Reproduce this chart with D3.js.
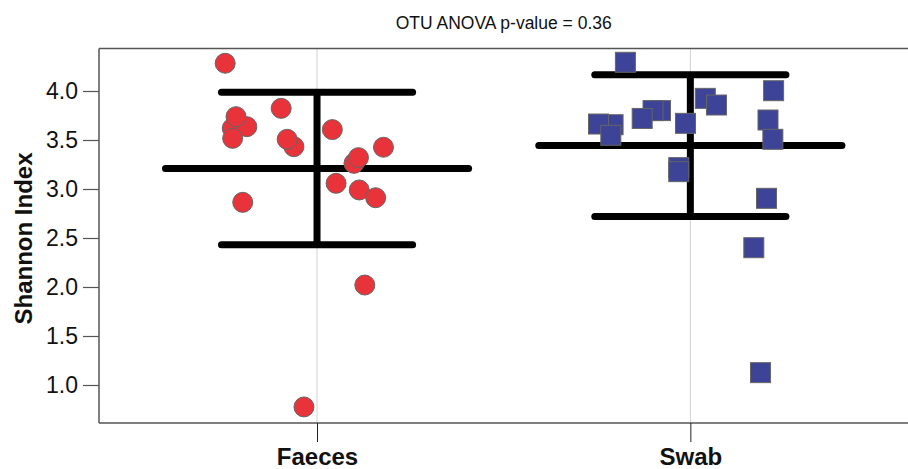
<!DOCTYPE html>
<html>
<head>
<meta charset="utf-8">
<script src="https://cdn.jsdelivr.net/npm/d3@7"></script>
<style>
  html, body { margin: 0; padding: 0; background: #fff; }
  svg { display: block; }
  text { font-family: "Liberation Sans", Arial, sans-serif; }
</style>
</head>
<body>
<svg id="chart" width="908" height="469"></svg>
<script>
// ---- data ----
const categories = ["Faeces", "Swab"];
const title = "OTU ANOVA p-value = 0.36";
const yLabel = "Shannon Index";
const yTicks = [1.0, 1.5, 2.0, 2.5, 3.0, 3.5, 4.0];

const faecesValues = [4.283, 3.620, 3.636, 3.517, 3.738, 3.823, 3.432, 3.507, 3.606, 3.426, 3.262, 3.320, 3.058, 2.990, 2.911, 2.864, 2.020, 0.776];
const faecesJitter = [-0.246, -0.227, -0.188, -0.226, -0.217, -0.096, -0.062, -0.080, 0.041, 0.178, 0.099, 0.111, 0.051, 0.113, 0.157, -0.199, 0.128, -0.035];

const swabValues = [4.293, 4.003, 3.925, 3.857, 3.800, 3.800, 3.720, 3.656, 3.663, 3.548, 3.670, 3.704, 3.507, 3.218, 3.177, 2.905, 2.401, 1.126];
const swabJitter = [-0.174, 0.223, 0.040, 0.070, -0.080, -0.100, -0.129, -0.207, -0.246, -0.213, -0.013, 0.208, 0.221, -0.031, -0.031, 0.204, 0.170, 0.188];

const means = [3.208, 3.443];
const sds = [0.778, 0.723];

// ---- layout ----
const svg = d3.select("#chart");
const pLeft = 99, pRight = 908, pTop = 48.5, pBottom = 423;

const x = d3.scaleLinear().domain([-0.584, 1.583]).range([pLeft, pRight]);
const y = d3.scaleLinear().domain([0.6122, 4.4337]).range([pBottom, pTop]);

// vertical grid lines at categories
svg.append("g").selectAll("line").data(categories).join("line")
  .attr("x1", (d, i) => x(i)).attr("x2", (d, i) => x(i))
  .attr("y1", pTop).attr("y2", pBottom)
  .attr("stroke", "#d0d0d0").attr("stroke-width", 1);

// frame
const frameColor = "#555";
svg.append("line").attr("x1", pLeft).attr("x2", pRight).attr("y1", pTop).attr("y2", pTop)
  .attr("stroke", frameColor).attr("stroke-width", 1.5);

// y axis
const yAxis = d3.axisLeft(y).tickValues(yTicks).tickFormat(d3.format(".1f"))
  .tickSize(16).tickPadding(5);
const gy = svg.append("g").attr("transform", `translate(${pLeft},0)`).call(yAxis);
gy.select(".domain").attr("stroke", frameColor).attr("stroke-width", 1.5)
  .attr("d", `M0,${pTop}V${pBottom}`);
gy.selectAll(".tick line").attr("stroke", frameColor).attr("stroke-width", 1.2);
gy.selectAll(".tick text").attr("font-size", 23).attr("fill", "#111")
  .style("font-family", "'Liberation Sans', Arial, sans-serif");

// x axis
const xAxis = d3.axisBottom(x).tickValues([0, 1]).tickFormat((d, i) => categories[i])
  .tickSize(19).tickPadding(6);
const gx = svg.append("g").attr("transform", `translate(0,${pBottom})`).call(xAxis);
gx.select(".domain").attr("stroke", frameColor).attr("stroke-width", 1.5)
  .attr("d", `M${pLeft},0H${pRight}`);
gx.selectAll(".tick line").attr("stroke", "#222").attr("stroke-width", 1);
gx.selectAll(".tick text").attr("font-size", 24).attr("font-weight", "bold").attr("fill", "#111")
  .style("font-family", "'Liberation Sans', Arial, sans-serif");

// title
svg.append("text").attr("x", x(0.5)).attr("y", 29)
  .attr("text-anchor", "middle").attr("font-size", 17.5).attr("fill", "#111")
  .text(title);

// y label
svg.append("text").attr("transform", `translate(32,${238.5}) rotate(-90)`)
  .attr("text-anchor", "middle").attr("font-size", 24).attr("font-weight", "bold").attr("fill", "#111")
  .text(yLabel);

// mean +/- sd bars
const meanHalf = 0.406, capHalf = 0.256;
const bars = svg.append("g").attr("stroke", "#000").attr("stroke-width", 7).attr("stroke-linecap", "round");
categories.forEach((c, i) => {
  bars.append("line").attr("x1", x(i)).attr("x2", x(i))
    .attr("y1", y(means[i] + sds[i])).attr("y2", y(means[i] - sds[i])).attr("stroke-linecap", "butt");
  bars.append("line").attr("x1", x(i - meanHalf)).attr("x2", x(i + meanHalf))
    .attr("y1", y(means[i])).attr("y2", y(means[i]));
  bars.append("line").attr("x1", x(i - capHalf)).attr("x2", x(i + capHalf))
    .attr("y1", y(means[i] + sds[i])).attr("y2", y(means[i] + sds[i]));
  bars.append("line").attr("x1", x(i - capHalf)).attr("x2", x(i + capHalf))
    .attr("y1", y(means[i] - sds[i])).attr("y2", y(means[i] - sds[i]));
});

// points
const faeces = faecesValues.map((v, k) => ({ v, j: faecesJitter[k] }));
const swab = swabValues.map((v, k) => ({ v, j: swabJitter[k] }));

svg.append("g").selectAll("circle").data(faeces).join("circle")
  .attr("cx", d => x(0 + d.j)).attr("cy", d => y(d.v)).attr("r", 10)
  .attr("fill", "#e8333a").attr("stroke", "#666").attr("stroke-width", 1);

const sq = 20;
svg.append("g").selectAll("rect").data(swab).join("rect")
  .attr("x", d => x(1 + d.j) - sq / 2).attr("y", d => y(d.v) - sq / 2)
  .attr("width", sq).attr("height", sq)
  .attr("fill", "#3d4396").attr("stroke", "#666").attr("stroke-width", 1);
</script>
</body>
</html>
